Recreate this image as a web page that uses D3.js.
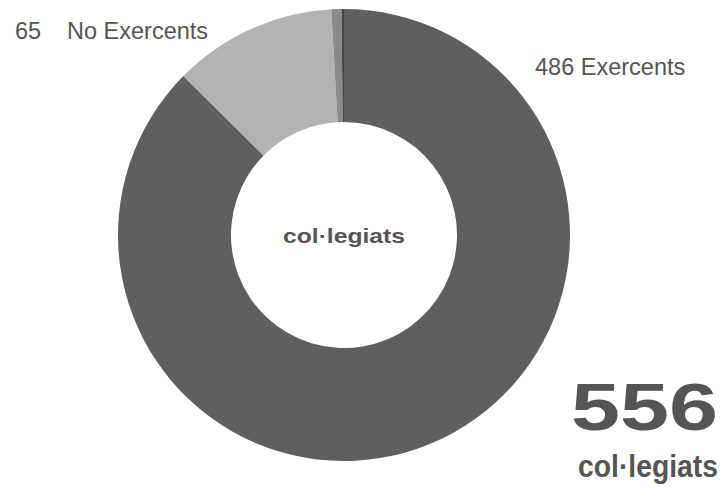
<!DOCTYPE html>
<html>
<head>
<meta charset="utf-8">
<script src="https://cdn.jsdelivr.net/npm/d3@7"></script>
<style>
  body { margin: 0; background: #fff; overflow: hidden; }
  svg { display: block; }
  text { font-family: "Liberation Sans", Arial, sans-serif; }
</style>
</head>
<body>
<div class="main"></div>
<script>
//// Data
const categories = ['Exercents', 'No Exercents', 'Altres', 'Sense dades'];
const values = [486, 65, 4, 1];
const sliceColors = ['#5f5f5f', '#b3b3b3', '#8b8b8b', '#474747'];
const total = 556;
const unitLabel = 'col·legiats';

const width = 724;
const height = 491;
const cx = 344, cy = 235;
const outerR = 226, innerR = 113;

const svg = d3.select('.main').append('svg')
  .attr('width', width)
  .attr('height', height);

const pie = d3.pie().sort(null).value(d => d);
const arc = d3.arc().innerRadius(innerR).outerRadius(outerR);

const g = svg.append('g').attr('transform', `translate(${cx},${cy})`);
g.selectAll('path')
  .data(pie(values))
  .enter()
  .append('path')
  .attr('d', arc)
  .attr('fill', (d, i) => sliceColors[i]);

// centre label
g.append('text')
  .attr('x', 0).attr('y', 8)
  .attr('text-anchor', 'middle')
  .attr('font-size', 21)
  .attr('font-weight', 'bold')
  .attr('fill', '#555')
  .attr('textLength', 122)
  .attr('lengthAdjust', 'spacingAndGlyphs')
  .text(unitLabel);

// slice labels
const labelColor = '#555';
svg.append('text').attr('x', 15).attr('y', 39)
  .attr('font-size', 23.5).attr('fill', labelColor).text(values[1]);
svg.append('text').attr('x', 67).attr('y', 39)
  .attr('font-size', 23.5).attr('fill', labelColor).text(categories[1]);
svg.append('text').attr('x', 535).attr('y', 75)
  .attr('font-size', 23.5).attr('fill', labelColor).text(`${values[0]} ${categories[0]}`);

// total, right-aligned
svg.append('text').attr('x', 718).attr('y', 430)
  .attr('text-anchor', 'end')
  .attr('font-size', 66).attr('font-weight', 'bold').attr('fill', '#555')
  .attr('textLength', 147).attr('lengthAdjust', 'spacingAndGlyphs')
  .text(total);
svg.append('text').attr('x', 718).attr('y', 477)
  .attr('text-anchor', 'end')
  .attr('font-size', 32).attr('font-weight', 'bold').attr('fill', '#555')
  .attr('textLength', 140).attr('lengthAdjust', 'spacingAndGlyphs')
  .text(unitLabel);
</script>
</body>
</html>
